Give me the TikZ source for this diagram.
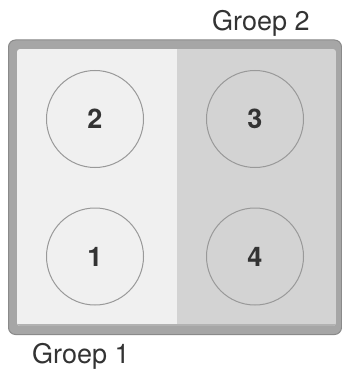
\documentclass[tikz,border=0pt]{standalone}
\usepackage{fontspec}
\setmainfont{TeX Gyre Heros}
\definecolor{frameC}{HTML}{A6A6A6}
\definecolor{frameEdge}{HTML}{8A8A8A}
\definecolor{leftC}{HTML}{F0F0F0}
\definecolor{rightC}{HTML}{D3D3D3}
\definecolor{ringC}{HTML}{999999}
\definecolor{txtC}{HTML}{333333}
\begin{document}
\begin{tikzpicture}[x=1pt,y=-1pt,
  burner/.style={circle,draw=ringC,line width=1pt,minimum size=97pt,inner sep=0pt,
    font=\fontsize{27}{29}\selectfont\bfseries,text=txtC},
  grp/.style={font=\fontsize{27}{29}\selectfont,text=txtC}]
\useasboundingbox (0,0) rectangle (342,369);
% outer frame
\draw[frameEdge,fill=frameC,line width=1pt,rounded corners=7pt] (8.5,40) rectangle (341.5,334.5);
% inner panel
\begin{scope}
  \clip[rounded corners=3pt] (17,49) rectangle (336,326);
  \fill[leftC] (17,49) rectangle (177,326);
  \fill[rightC] (177,49) rectangle (336,326);
  \fill[black!30] (17,324) rectangle (336,326);
\end{scope}
% burners
\node[burner,fill=leftC] (b2) at (95,119) {2};
\node[burner,fill=rightC] (b3) at (255,119) {3};
\node[burner,fill=leftC] (b1) at (95,256.5) {1};
\node[burner,fill=rightC] (b4) at (255,256.5) {4};
% labels
\node[grp,anchor=base west,inner sep=0pt] (g2) at (212,31) {Groep 2};
\node[grp,anchor=base west,inner sep=0pt] (g1) at (32,363) {Groep 1};
\end{tikzpicture}
\end{document}
